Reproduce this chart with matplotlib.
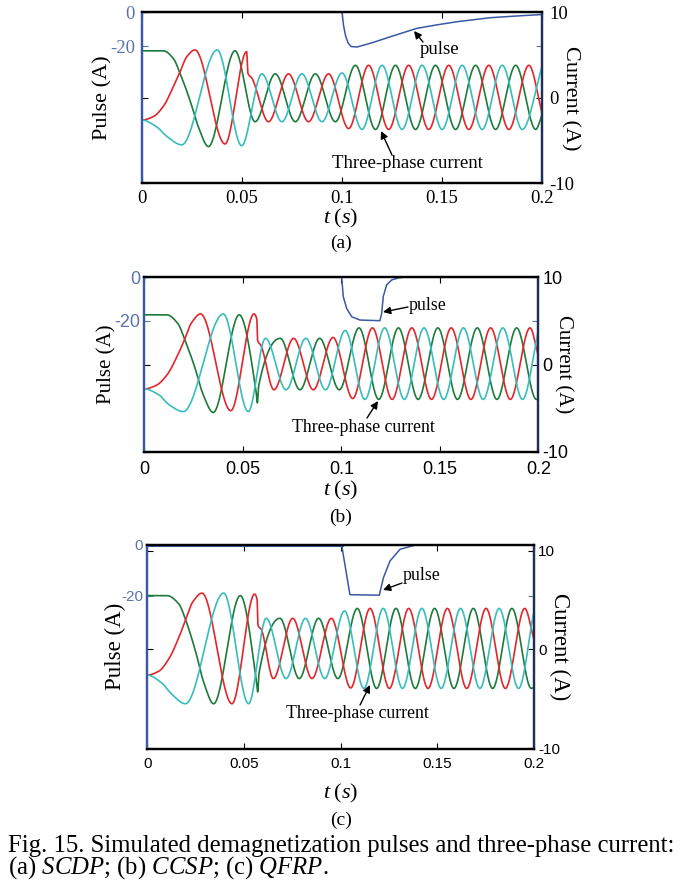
import numpy as np
import matplotlib
matplotlib.use("Agg")
import matplotlib.pyplot as plt

plt.rcParams['mathtext.fontset'] = 'custom'
plt.rcParams['mathtext.rm'] = 'Liberation Serif'
plt.rcParams['mathtext.it'] = 'Liberation Serif:italic'

SERIF = 'Liberation Serif'
SANS = 'Liberation Sans'

# ---- panel (a) SCDP : extrema of the three phase currents (t in s, i in A)
A_T_GREEN = [0, 0.0108, 0.0158, 0.0191, 0.0241, 0.0283, 0.0333, 0.0466, 0.0566, 0.0667, 0.0767, 0.0867,
             0.0967, 0.1067, 0.1167, 0.1267, 0.1367, 0.1467, 0.1567, 0.1667, 0.1767, 0.1867, 0.1967, 0.2]
A_I_GREEN = [5.5, 5.5, 4.6, 2.9, -0.3, -3.4, -5.7, 5.5, -2.8, 2.8, -2.8, 2.8,
             -2.8, 3.8, -3.7, 3.8, -3.7, 3.8, -3.7, 3.8, -3.7, 3.8, -3.7, -1.9]
A_T_RED = [0, 0.0058, 0.0108, 0.0158, 0.0191, 0.0225, 0.0266, 0.0416, 0.0524, 0.0530, 0.0550, 0.0633, 0.0733,
           0.0833, 0.0933, 0.1033, 0.1133, 0.1233, 0.1333, 0.1433, 0.1533, 0.1633, 0.1733, 0.1833, 0.1933, 0.2]
A_I_RED = [-2.6, -2.2, -1.0, 1.3, 3.0, 4.8, 5.6, -5.4, 5.4, 2.9, 2.3, -2.8, 2.8,
           -2.8, 2.8, -3.6, 3.8, -3.7, 3.8, -3.7, 3.8, -3.7, 3.8, -3.7, 3.8, -1.9]
A_T_CYAN = [0, 0.0075, 0.0125, 0.0200, 0.0377, 0.0499, 0.0600, 0.0700, 0.0800, 0.0900, 0.1000,
            0.1100, 0.1200, 0.1300, 0.1400, 0.1500, 0.1600, 0.1700, 0.1800, 0.1900, 0.2]
A_I_CYAN = [-2.6, -3.4, -4.5, -5.5, 5.6, -5.6, 2.8, -2.8, 2.8, -2.8, 2.9,
            -3.7, 3.8, -3.7, 3.8, -3.7, 3.8, -3.7, 3.8, -3.7, 3.8]
A_T_PULSE = [0, 0.1, 0.1008, 0.1018, 0.1030, 0.1045, 0.1075, 0.1150, 0.124, 0.1373, 0.1480, 0.1572, 0.174, 0.187, 0.2]
A_P_PULSE = [0, 0, -8, -14, -18, -20.2, -20.5, -18, -14.5, -9.5, -7.3, -5.6, -3.2, -2.2, -1.3]

# ---- panel (b) CCSP
B_T_GREEN = [0, 0.0114, 0.0170, 0.0205, 0.0256, 0.0298, 0.0350, 0.0482, 0.0568, 0.0574, 0.0580, 0.0690, 0.0790,
             0.0890, 0.0990, 0.1090, 0.1190, 0.1290, 0.1390, 0.1490, 0.1590, 0.1690, 0.1790, 0.1890, 0.1990, 0.2]
B_I_GREEN = [5.7, 5.7, 4.7, 2.9, -0.3, -3.4, -5.5, 5.7, -3.2, -4.4, -2.5, 3.0, -2.9,
             3.0, -2.9, 4.2, -4.0, 4.2, -4.0, 4.2, -4.0, 4.2, -4.0, 4.2, -4.0, -3.95]
B_T_RED = [0, 0.0060, 0.0115, 0.0170, 0.0205, 0.0240, 0.0286, 0.0439, 0.0557, 0.0571, 0.0575, 0.0592, 0.0658,
           0.0758, 0.0858, 0.0958, 0.1058, 0.1158, 0.1258, 0.1358, 0.1458, 0.1558, 0.1658, 0.1758, 0.1858,
           0.1958, 0.2]
B_I_RED = [-2.8, -2.4, -1.2, 1.1, 2.9, 4.8, 5.8, -5.3, 5.8, 5.2, 2.8, 2.2, -2.9,
           3.0, -2.9, 3.1, -3.9, 4.2, -4.0, 4.2, -4.0, 4.2, -4.0, 4.2, -4.0,
           4.2, 1.0]
B_T_CYAN = [0, 0.0075, 0.0125, 0.0198, 0.0401, 0.0528, 0.0615, 0.0720, 0.0820, 0.0920, 0.1020,
            0.1120, 0.1220, 0.1320, 0.1420, 0.1520, 0.1620, 0.1720, 0.1820, 0.1920, 0.2]
B_I_CYAN = [-2.8, -3.5, -4.6, -5.4, 5.8, -5.4, 3.0, -2.9, 3.0, -2.9, 3.9,
            -4.0, 4.2, -4.0, 4.2, -4.0, 4.2, -4.0, 4.2, -4.0, 3.9]
B_T_PULSE = [0, 0.1002, 0.1010, 0.1027, 0.1053, 0.1095, 0.1196, 0.1205, 0.1213, 0.1230, 0.1256, 0.1290, 0.1315, 0.2]
B_P_PULSE = [0, 0, -8.9, -14.3, -18.2, -19.7, -20, -16.6, -8.9, -3.5, -1.2, -0.3, 0, 0]

# ---- panel (c) QFRP
C_T_GREEN = [0, 0.0102, 0.0163, 0.0200, 0.0251, 0.0293, 0.0343, 0.0481, 0.0565, 0.0571, 0.0578, 0.0686, 0.0786,
             0.0886, 0.0986, 0.1086, 0.1186, 0.1286, 0.1386, 0.1486, 0.1586, 0.1686, 0.1786, 0.1886, 0.1986, 0.2]
C_I_GREEN = [5.45, 5.45, 4.6, 2.9, -0.3, -3.4, -5.5, 5.45, -3.3, -4.3, -2.4, 3.15, -2.95,
             3.15, -2.95, 4.15, -3.95, 4.15, -3.95, 4.15, -3.95, 4.15, -3.95, 4.15, -3.95, -3.8]
C_T_RED = [0, 0.0060, 0.0110, 0.0165, 0.0198, 0.0235, 0.0283, 0.0438, 0.0555, 0.0568, 0.0572, 0.0590, 0.0652,
           0.0752, 0.0852, 0.0952, 0.1052, 0.1152, 0.1252, 0.1352, 0.1452, 0.1552, 0.1652, 0.1752, 0.1852,
           0.1952, 0.2]
C_I_RED = [-2.6, -2.2, -1.0, 1.3, 3.0, 4.8, 5.7, -5.5, 5.6, 5.0, 2.5, 2.0, -2.95,
           3.15, -2.95, 3.15, -3.9, 4.15, -3.95, 4.15, -3.95, 4.15, -3.95, 4.15, -3.95,
           4.15, 1.0]
C_T_CYAN = [0, 0.0075, 0.0125, 0.0197, 0.0395, 0.0524, 0.0615, 0.0718, 0.0818, 0.0918, 0.1020,
            0.1120, 0.1220, 0.1320, 0.1420, 0.1520, 0.1620, 0.1720, 0.1820, 0.1920, 0.2]
C_I_CYAN = [-2.6, -3.4, -4.5, -5.5, 5.7, -5.5, 3.15, -2.95, 3.15, -2.95, 3.9,
            -3.95, 4.15, -3.95, 4.15, -3.95, 4.15, -3.95, 4.15, -3.95, 3.9]
C_T_PULSE = [0, 0.1005, 0.1048, 0.1200, 0.1221, 0.1255, 0.1307, 0.1393, 0.2]
C_P_PULSE = [0, 0, -19.6, -19.8, -13, -6.4, -1.8, 0, 0]

X_TICKS = [0, 0.05, 0.1, 0.15, 0.2]
X_TICKLABELS = ['0', '0.05', '0.1', '0.15', '0.2']

CAPTION = ('Fig. 15. Simulated demagnetization pulses and three-phase current:\n'
           r'(a) $\mathit{SCDP}$; (b) $\mathit{CCSP}$; (c) $\mathit{QFRP}$.')

RED = '#e2262b'
GREEN = '#1d7a3a'
CYAN = '#38bcbc'
BLUE = '#3a58a4'
TICKBLUE = '#5a74aa'

W, H = 682, 892


def pchip(x, y, xi):
    # smooth monotone curve through the read extrema
    x = np.asarray(x, float)
    y = np.asarray(y, float)
    h = np.diff(x)
    d = np.diff(y) / h
    m = np.zeros_like(y)
    for k in range(1, len(x) - 1):
        if d[k - 1] * d[k] > 0:
            w1 = 2 * h[k] + h[k - 1]
            w2 = h[k] + 2 * h[k - 1]
            m[k] = (w1 + w2) / (w1 / d[k - 1] + w2 / d[k])
    m[-1] = d[-1]
    idx = np.clip(np.searchsorted(x, xi, side='right') - 1, 0, len(h) - 1)
    s = (xi - x[idx]) / h[idx]
    h00 = 2 * s**3 - 3 * s**2 + 1
    h10 = s**3 - 2 * s**2 + s
    h01 = -2 * s**3 + 3 * s**2
    h11 = s**3 - s**2
    return h00 * y[idx] + h10 * h[idx] * m[idx] + h01 * y[idx + 1] + h11 * h[idx] * m[idx + 1]


def px_axes(fig, x0, y0, x1, y1):
    return fig.add_axes([x0 / W, 1 - y1 / H, (x1 - x0) / W, (y1 - y0) / H])


def panel(fig, box, phases, pulse, plim, ilim, tick_font, tick_size, lab, style):
    ax = px_axes(fig, *box)
    ax2 = ax.twinx()
    tt = np.linspace(0, 0.2, 4001)
    for (t, i), col in zip(phases, [GREEN, RED, CYAN]):
        ax2.plot(tt, pchip(t, i, tt), color=col, lw=1.2)
    pt = np.asarray(pulse[0])
    pv = np.asarray(pulse[1])
    ax.plot(pt, pv, color=BLUE, lw=1.1)
    if style.get('pulse_on_top'):
        # the flat zero part of the QFRP pulse shows over the top frame
        lead = pt <= 0.1005
        ax.plot(pt[lead], pv[lead], color=BLUE, lw=2.2, clip_on=False, zorder=5)

    ax.set_xlim(0, 0.2)
    ax.set_ylim(*plim)
    ax2.set_ylim(*ilim)
    ax.set_xticks(X_TICKS)
    ax.set_xticklabels(X_TICKLABELS, family=tick_font, fontsize=tick_size)
    ax.set_yticks([-20, 0])
    ax.set_yticklabels(['-20', '0'], family=tick_font, fontsize=tick_size, color=TICKBLUE)
    ax2.set_yticks([-10, 0, 10])
    ax2.set_yticklabels(['-10', '0', '10'], family=tick_font, fontsize=tick_size)
    ax.tick_params(axis='x', direction='in', top=True, length=4, width=0.8, pad=style['xpad'])
    ax.tick_params(axis='y', direction='in', right=True, length=4, width=0.8, pad=style['ypad'],
                   color=TICKBLUE)
    ax2.tick_params(axis='y', direction='in', left=True, length=4, width=0.8, pad=style['ypad'])

    for a in (ax, ax2):
        for sp in a.spines.values():
            sp.set_linewidth(1.6)
        a.spines['top'].set_color('black')
        a.spines['bottom'].set_color('black')
        a.spines['left'].set_color(BLUE)
        a.spines['right'].set_color('#1f2f5a')

    x0, y0, x1, y1 = box
    fig.text(style['plx'] / W, 1 - (y0 + y1) / 2 / H, 'Pulse (A)', rotation=90, ha='center', va='center',
             family=SERIF, fontsize=style['lab_size'])
    fig.text(style['clx'] / W, 1 - (y0 + y1) / 2 / H, 'Current (A)', rotation=-90, ha='center', va='center',
             family=SERIF, fontsize=style['lab_size'])
    fig.text(341 / W, 1 - style['ty'] / H, r'$t\;(s)$', ha='center', va='center', fontsize=16)
    fig.text(341 / W, 1 - style['cy'] / H, lab, ha='center', va='center', family=SERIF, fontsize=14)

    ann = dict(family=SERIF, fontsize=style['ann_size'], ha='center', va='center')
    arrow = dict(arrowstyle='-|>', color='black', lw=1.0, mutation_scale=11, shrinkA=0, shrinkB=0)
    ax.annotate('pulse', xy=style['p_head'], xycoords='figure pixels',
                xytext=style['p_text'], textcoords='figure pixels', **ann)
    ax.annotate('', xy=style['p_head'], xycoords='figure pixels',
                xytext=style['p_tail'], textcoords='figure pixels', arrowprops=arrow)
    ax.annotate('Three-phase current', xy=style['c_text'], xycoords='figure pixels', **ann)
    ax.annotate('', xy=style['c_head'], xycoords='figure pixels',
                xytext=style['c_tail'], textcoords='figure pixels', arrowprops=arrow)
    return ax, ax2


def fp(x, y):
    # reference pixel (top-left origin) -> figure pixels
    return (x, H - y)


fig = plt.figure(figsize=(W / 100, H / 100), dpi=100)

panel(fig, (141.7, 12.3, 542.3, 183.3),
      [(A_T_GREEN, A_I_GREEN), (A_T_RED, A_I_RED), (A_T_CYAN, A_I_CYAN)],
      (A_T_PULSE, A_P_PULSE), (-101, 0), (-10, 10), SERIF, 13.5, '(a)',
      dict(xpad=5, ypad=5, plx=103, clx=570, lab_size=16, ty=218, cy=243, ann_size=13.5,
           p_text=fp(440, 50), p_tail=fp(423, 42), p_head=fp(414, 31),
           c_text=fp(407, 163), c_tail=fp(392, 155), c_head=fp(381, 131)))

panel(fig, (144.3, 277.3, 538.3, 451.7),
      [(B_T_GREEN, B_I_GREEN), (B_T_RED, B_I_RED), (B_T_CYAN, B_I_CYAN)],
      (B_T_PULSE, B_P_PULSE), (-80.4, 0), (-10, 10), SANS, 13, '(b)',
      dict(xpad=7, ypad=3, plx=107, clx=563, lab_size=15, ty=490, cy=517, ann_size=12.8,
           p_text=fp(428, 305), p_tail=fp(408, 307), p_head=fp(383, 312),
           c_text=fp(363, 428), c_tail=fp(367, 418), c_head=fp(378, 401)))

panel(fig, (147.3, 544.7, 534, 748.7),
      [(C_T_GREEN, C_I_GREEN), (C_T_RED, C_I_RED), (C_T_CYAN, C_I_CYAN)],
      (C_T_PULSE, C_P_PULSE), (-80, 0), (-10.05, 10.6), SANS, 11, '(c)',
      dict(xpad=6, ypad=3, plx=115, clx=560, lab_size=16.5, ty=793, cy=820, ann_size=12.8,
           p_text=fp(422, 575), p_tail=fp(402, 583), p_head=fp(383, 590),
           c_text=fp(357, 713), c_tail=fp(360, 705), c_head=fp(370, 685),
           pulse_on_top=True))

fig.text(8 / W, 1 - 858 / H, CAPTION, ha='left', va='center', family=SERIF, fontsize=17.8,
         linespacing=0.9)

fig.savefig('out.png', dpi=100)
